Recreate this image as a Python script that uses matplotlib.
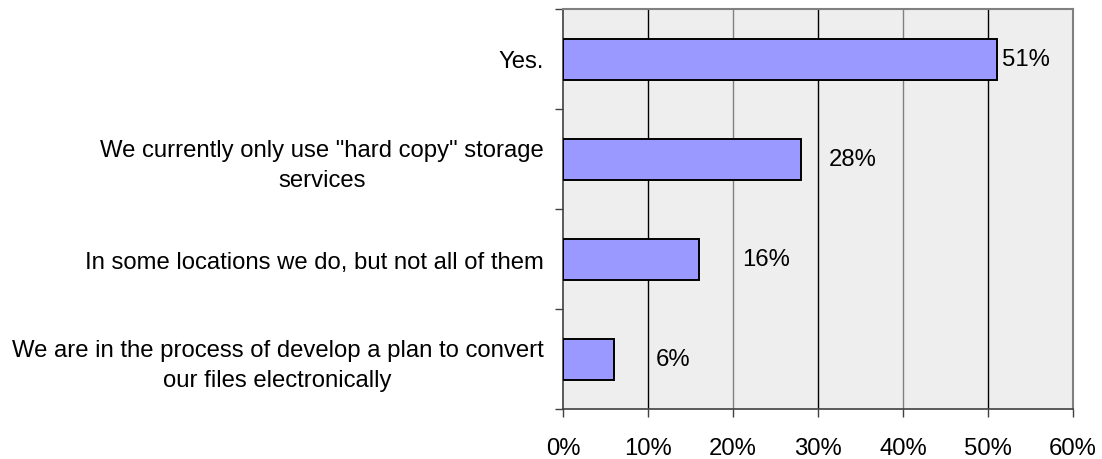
import matplotlib
matplotlib.use("Agg")
import matplotlib.pyplot as plt
from matplotlib.ticker import FixedLocator, PercentFormatter

plt.rcParams['font.family'] = ['Liberation Sans', 'DejaVu Sans']

categories = [
    "Yes.",
    "We currently only use \"hard copy\" storage\nservices",
    "In some locations we do, but not all of them",
    "We are in the process of develop a plan to convert\nour files electronically",
]
values = [51, 28, 16, 6]
value_labels = ["51%", "28%", "16%", "6%"]
x_ticks = [0, 10, 20, 30, 40, 50, 60]

FS = 17.2

fig = plt.figure(figsize=(11.02, 4.60), dpi=100)
ax = fig.add_axes([563 / 1102, 1 - 410 / 460, (1073 - 563) / 1102, 400 / 460])
ax.set_facecolor("#EEEEEE")

n = len(categories)
ypos = list(range(n))

# vertical gridlines (alternating black / grey as in the source rendering)
for i, t in enumerate(x_ticks[1:-1]):
    ax.axvline(t, color="black" if i % 2 == 0 else "#808080", lw=1.0, zorder=1)

ax.barh(ypos, values, height=0.41, color="#9999FF", edgecolor="black",
        linewidth=1.4, zorder=3)

# value labels placed to the right of each bar
label_x = [51.7, 31.3, 21.1, 10.9]
for y, lx, txt in zip(ypos, label_x, value_labels):
    ax.text(lx, y, txt, ha="left", va="center", fontsize=FS, color="black", zorder=4)

ax.set_xlim(0, 60)
ax.set_ylim(n - 0.5, -0.5)

ax.xaxis.set_major_locator(FixedLocator(x_ticks))
ax.xaxis.set_major_formatter(PercentFormatter(decimals=0))
ax.tick_params(axis="x", direction="out", length=5.5, width=1, color="#404040",
               labelsize=FS, pad=15)

ax.set_yticks(ypos)
ax.set_yticklabels(categories, fontsize=FS, multialignment="center",
                   linespacing=1.45)
ax.set_yticks([i - 0.5 for i in range(n + 1)], minor=True)
ax.tick_params(axis="y", which="major", length=0, pad=14)
ax.tick_params(axis="y", which="minor", direction="out", length=5.5, width=1,
               color="#404040")

for side in ("left", "bottom"):
    ax.spines[side].set_color("#404040")
    ax.spines[side].set_linewidth(1.2)
for side in ("top", "right"):
    ax.spines[side].set_color("#808080")
    ax.spines[side].set_linewidth(1.5)

fig.savefig("out.png", dpi=100)
